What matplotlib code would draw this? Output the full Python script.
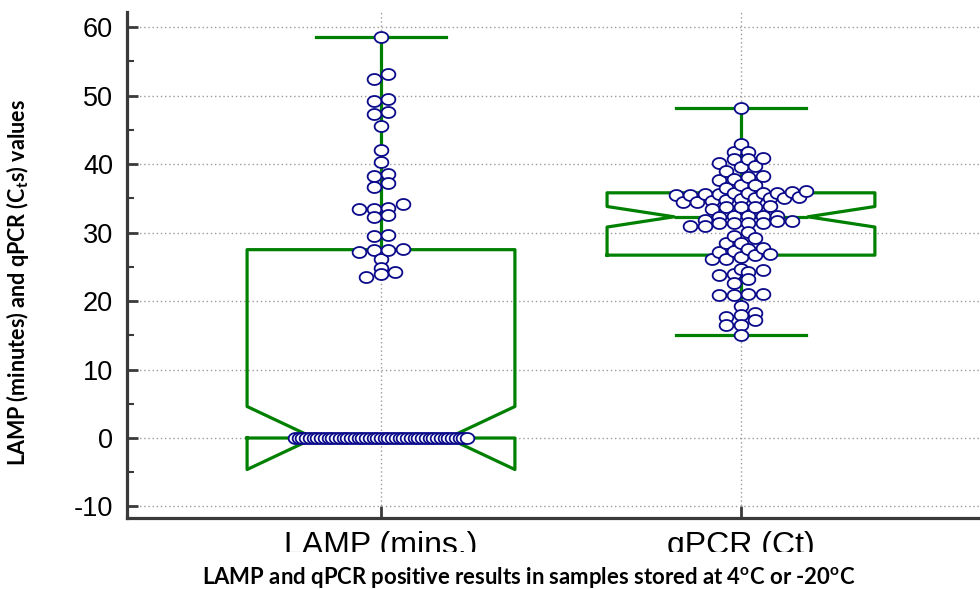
import numpy as np
import matplotlib
matplotlib.use('Agg')
import matplotlib.pyplot as plt
from matplotlib.path import Path
from matplotlib.patches import Rectangle
from matplotlib.ticker import MultipleLocator

# 数据
categories = ['LAMP (mins.)', 'qPCR (Ct)']
positions = [1, 2]

lamp_zero_count = 47
lamp_nonzero = [58.6, 53.2, 52.4, 49.5, 49.2, 47.6, 47.3, 45.5, 42.0, 40.3,
                38.6, 38.3, 37.2, 36.6, 34.2, 33.6, 33.4, 33.4, 32.6, 32.2,
                29.6, 29.5, 27.6, 27.4, 27.4, 27.2, 26.1, 24.8, 24.3, 24.0, 23.5]
lamp_values = [0.0] * lamp_zero_count + lamp_nonzero

qpcr_values = [48.2, 42.9, 41.8, 41.8, 40.9, 40.8, 40.7, 40.1, 39.7, 39.5,
               39.0, 38.2, 38.1, 37.8, 37.7, 37.0, 37.0, 36.5,
               36.0, 35.9, 35.8, 35.8, 35.7, 35.7, 35.6, 35.6, 35.5, 35.5,
               35.2, 35.1, 35.1, 35.0, 34.9, 34.8, 34.6, 34.5, 34.4,
               33.9, 33.8, 33.8, 33.8, 33.4,
               32.4, 32.4, 32.4, 32.4, 32.2, 31.8,
               31.7, 31.7, 31.4, 31.4, 31.4, 31.4, 31.0, 30.9,
               30.1, 29.5, 29.2, 28.5, 28.5,
               27.8, 27.6, 27.3, 27.2, 26.8, 26.7, 26.5, 26.2, 26.1,
               24.7, 24.6, 24.3, 24.0, 23.8, 23.2, 22.6,
               21.0, 21.0, 20.9, 20.9, 19.3, 18.2, 18.0, 17.7, 17.2,
               16.5, 16.5, 15.0]

# 箱线图统计量（图中所示）
box_q1 = [0.0, 26.7]
box_med = [0.0, 32.3]
box_q3 = [27.5, 35.8]
box_whislo = [0.0, 15.0]
box_whishi = [58.5, 48.2]
box_cilo = [-4.6, 30.8]
box_cihi = [4.6, 33.8]

yticks = list(range(-10, 61, 10))

#############################################
# 绘图部分
#############################################
plt.rcParams['axes.unicode_minus'] = False
plt.rcParams['mathtext.fontset'] = 'custom'
plt.rcParams['mathtext.rm'] = 'Lato:bold'
plt.rcParams['mathtext.it'] = 'Lato:bold'
plt.rcParams['mathtext.bf'] = 'Lato:bold'

fig = plt.figure(figsize=(9.8, 5.89), dpi=100)
ax = fig.add_axes([127 / 980, 71 / 589, 853 / 980, 506 / 589])
ax.set_xlim(0.2944, 2.664)
ax.set_ylim(-11.68, 62.2)

axis_col = '#3a3a3a'
for s in ['top', 'right']:
    ax.spines[s].set_visible(False)
for s in ['left', 'bottom']:
    ax.spines[s].set_color(axis_col)
    ax.spines[s].set_linewidth(2.3)

ax.set_yticks(yticks)
ax.yaxis.set_minor_locator(MultipleLocator(5))
ax.tick_params(axis='y', which='major', direction='in', length=8, width=2,
               color=axis_col, pad=10, labelsize=19.5)
ax.tick_params(axis='y', which='minor', direction='in', length=5, width=1.5,
               color=axis_col)
ax.set_xticks(positions)
ax.set_xticklabels(categories)
ax.tick_params(axis='x', direction='in', length=9, width=2, color=axis_col,
               pad=9.5, labelsize=23)
for lab in ax.get_xticklabels() + ax.get_yticklabels():
    lab.set_fontfamily('Liberation Sans')

ax.grid(True, which='major', color='#9a9a9a', linestyle=(0, (1, 2)), linewidth=1)
ax.set_axisbelow(True)

# 箱线图
green = '#008000'
stats = []
for i in range(len(categories)):
    stats.append(dict(label=categories[i], q1=box_q1[i], med=box_med[i],
                      q3=box_q3[i], whislo=box_whislo[i], whishi=box_whishi[i],
                      cilo=box_cilo[i], cihi=box_cihi[i], fliers=[]))
lp = dict(color=green, linewidth=2.3)
ax.bxp(stats, positions=positions, widths=0.744, capwidths=0.36,
       shownotches=True, showfliers=False, boxprops=lp, whiskerprops=lp,
       capprops=lp, medianprops=lp, manage_ticks=False)


# 散点分布：相近的值放在同一行，行内居中等距排开
def dot_rows_x(values, pos, row_h=0.85, step_px=14.5, max_px=172.0):
    vals = np.asarray(values, float)
    order = np.argsort(vals, kind='stable')
    rows, cur = [], [order[0]]
    for i in order[1:]:
        if vals[i] <= vals[cur[0]] + row_h:
            cur.append(i)
        else:
            rows.append(cur)
            cur = [i]
    rows.append(cur)
    cx = ax.transData.transform((pos, 0))[0]
    x_px = np.zeros(len(vals))
    for r in rows:
        n = len(r)
        step = step_px if n < 2 or (n - 1) * step_px <= max_px else max_px / (n - 1)
        x_px[r] = cx + (np.arange(n) - (n - 1) / 2) * step
    pts = ax.transData.inverted().transform(np.column_stack([x_px, np.zeros(len(vals))]))
    return pts[:, 0]


t = np.linspace(0, 2 * np.pi, 41)
ellipse = Path(np.column_stack([np.cos(t), 0.8 * np.sin(t)]))

for pos, vals in zip(positions, [lamp_values, qpcr_values]):
    xs = dot_rows_x(vals, pos)
    order = np.argsort(xs, kind='stable')
    ax.plot(xs[order], np.asarray(vals)[order], linestyle='none', marker=ellipse,
            markersize=9.9, markerfacecolor='white', markeredgecolor='#0a0a8a',
            markeredgewidth=1.3, zorder=5)

# 下方刻度标签被截断的效果
fig.add_artist(Rectangle((0, 0), 1, 37 / 589, transform=fig.transFigure,
                         facecolor='white', edgecolor='none', zorder=10))

fig.text(529 / 980, 1 - 577 / 589,
         r'LAMP and qPCR positive results in samples stored at 4$^{o}$C or -20$^{o}$C',
         ha='center', va='center', fontsize=15.9, fontweight='bold',
         family='Lato', zorder=11)
fig.text(18 / 980, 1 - 283 / 589, r'LAMP (minutes) and qPCR (C$_{t}$s) values',
         ha='center', va='center', rotation=90, fontsize=15.5,
         fontweight='bold', family='Lato', zorder=11)

plt.savefig('out.png', dpi=100)
